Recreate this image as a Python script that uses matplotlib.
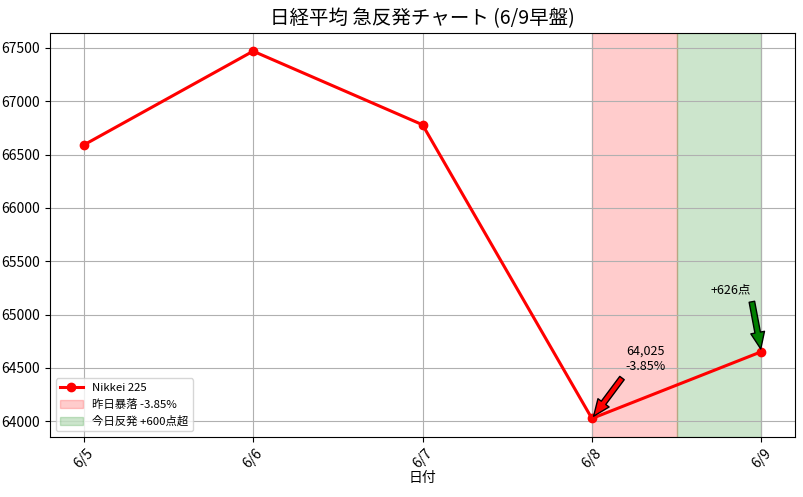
import matplotlib.pyplot as plt

plt.rcParams['font.family'] = ['Noto Sans CJK JP', 'DejaVu Sans']

dates = ['6/5', '6/6', '6/7', '6/8', '6/9']
closes = [66590, 67470, 66780, 64025, 64651]

fig, ax = plt.subplots(figsize=(8.04, 4.97), dpi=100)
fig.subplots_adjust(left=0.062, right=0.989, top=0.934, bottom=0.121)
x = list(range(len(dates)))
ax.plot(x, closes, color='red', marker='o', linewidth=2.2, label='Nikkei 225', zorder=3)
ax.axvspan(3, 3.5, color='red', alpha=0.2, label='昨日暴落 -3.85%')
ax.axvspan(3.5, 4, color='green', alpha=0.2, label='今日反発 +600点超')

ax.annotate('64,025\n-3.85%', xy=(3, closes[3]), xytext=(3.2, 64480),
            arrowprops=dict(facecolor='red', shrink=0.05, width=4, headwidth=10),
            fontsize=9)
ax.annotate('+626点', xy=(4, closes[4]), xytext=(3.7, 65200),
            arrowprops=dict(facecolor='green', shrink=0.05, width=4, headwidth=10),
            fontsize=9)

ax.set_xticks(x)
ax.set_xticklabels(dates, rotation=45)
ax.set_title('日経平均 急反発チャート (6/9早盤)', fontsize=14)
ax.set_xlabel('日付', labelpad=0)
ax.set_ylabel('指数')
ax.grid(True)
ax.legend(loc='lower left', fontsize=8.2)
fig.savefig('out.png')
